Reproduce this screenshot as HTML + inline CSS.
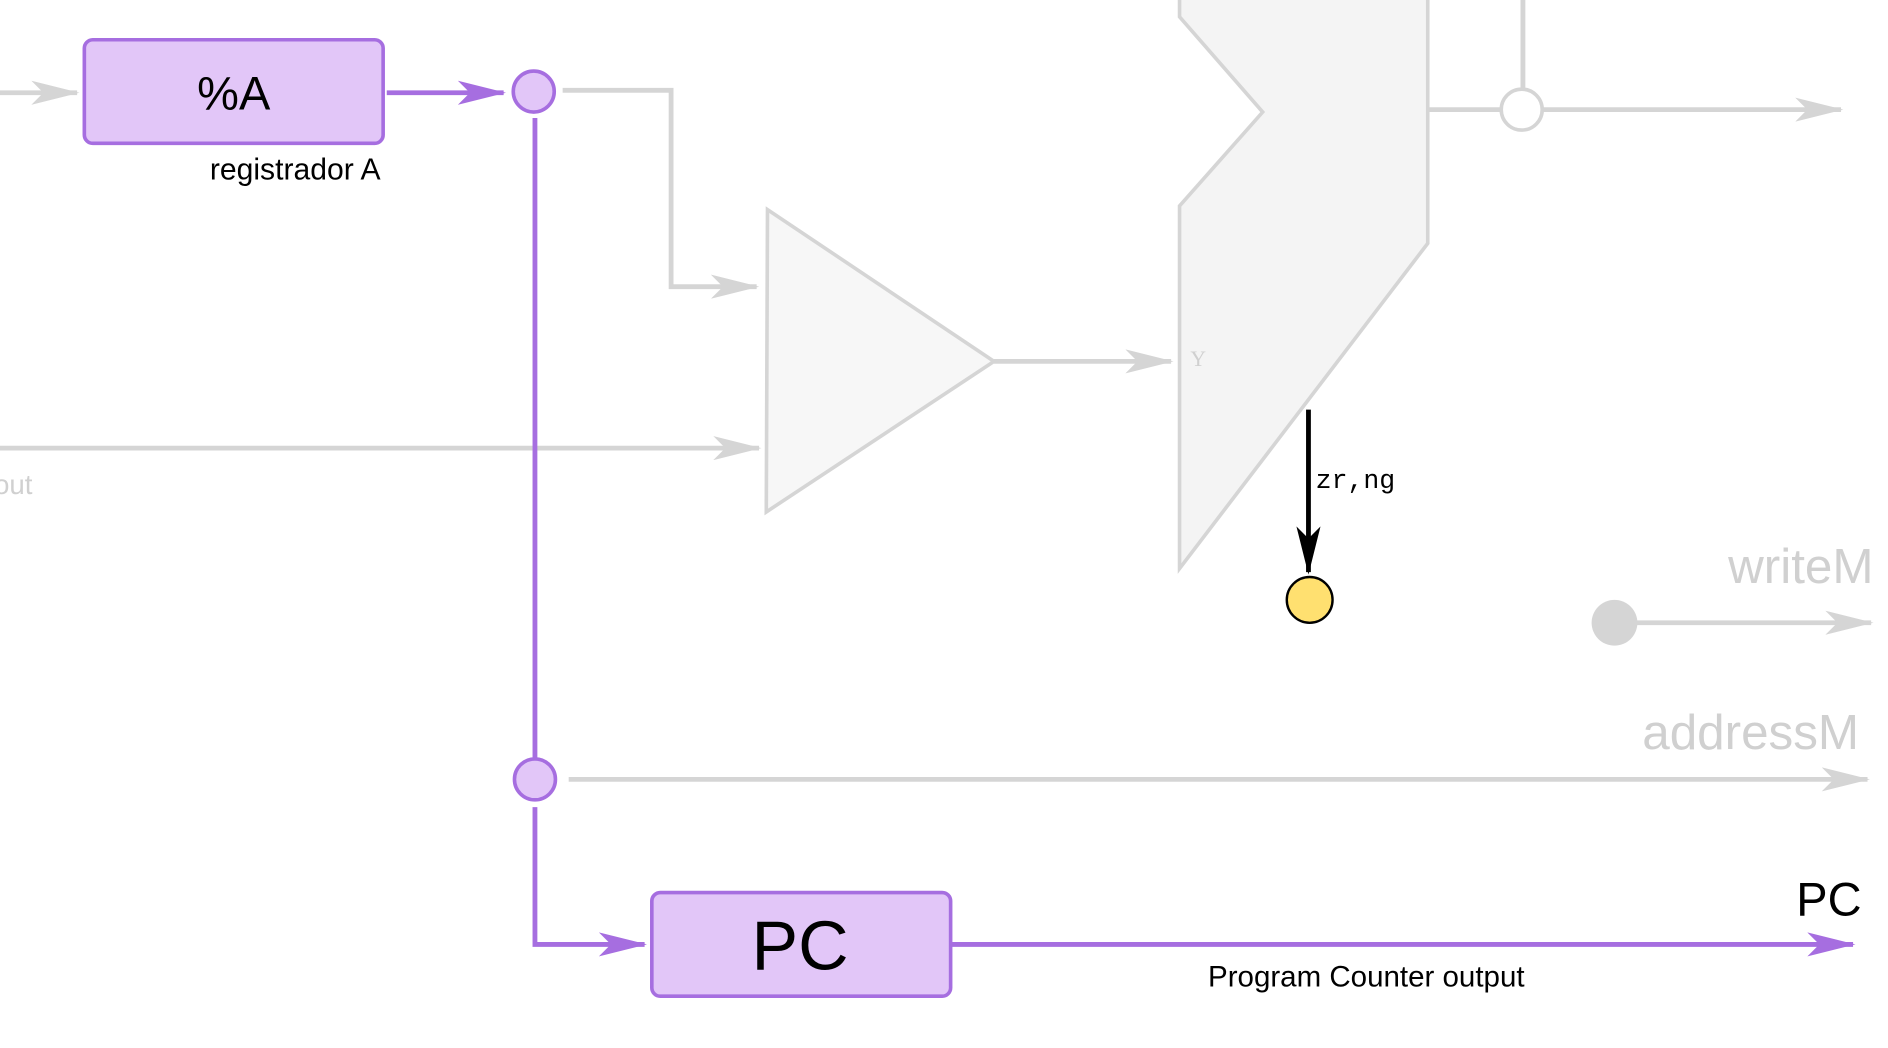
<!DOCTYPE html>
<html><head><meta charset="utf-8"><style>
html,body{margin:0;padding:0;background:#fff;width:1888px;height:1048px;overflow:hidden}
svg{display:block}
</style></head><body>
<svg width="1888" height="1048" viewBox="0 0 1567 870" preserveAspectRatio="none" font-family="Liberation Sans, sans-serif">
<defs>
<marker id="g" viewBox="0 0 40 20" markerUnits="userSpaceOnUse" markerWidth="40" markerHeight="20" refX="38" refY="10" orient="auto"><path d="M0,0 L40,10 L0,20 L10,10 z" fill="#d5d5d5"/></marker>
<marker id="p" viewBox="0 0 40 20" markerUnits="userSpaceOnUse" markerWidth="40" markerHeight="20" refX="38" refY="10" orient="auto"><path d="M0,0 L40,10 L0,20 L10,10 z" fill="#a66ee0"/></marker>
<marker id="k" viewBox="0 0 20 40" markerUnits="userSpaceOnUse" markerWidth="20" markerHeight="40" refX="10" refY="38" orient="0"><path d="M0,0 L10,40 L20,0 L10,10 z" fill="#000"/></marker>
</defs>
<polygon points="979,-5 979,14 1048,93 979,171 979,472 1185,202 1185,-5" fill="#f4f4f4" stroke="#d5d5d5" stroke-width="3"/>
<text x="988" y="304" style="font-family:'Liberation Serif',serif;font-size:18px" fill="#d0d0d0">Y</text>
<line x1="1264" y1="0" x2="1264" y2="74" stroke="#d5d5d5" stroke-width="4"/>
<line x1="1185" y1="91" x2="1246" y2="91" stroke="#d5d5d5" stroke-width="4"/>
<line x1="1280" y1="91" x2="1528" y2="91" stroke="#d5d5d5" stroke-width="4" marker-end="url(#g)"/>
<circle cx="1263" cy="91" r="17" fill="#fff" stroke="#d5d5d5" stroke-width="3"/>
<polygon points="637,174 825,300 636,425" fill="#f7f7f7" stroke="#d5d5d5" stroke-width="3"/>
<line x1="825" y1="300" x2="972" y2="300" stroke="#d5d5d5" stroke-width="4" marker-end="url(#g)"/>
<polyline points="467,75 557,75 557,238 628,238" fill="none" stroke="#d5d5d5" stroke-width="4" marker-end="url(#g)"/>
<line x1="0" y1="372" x2="630" y2="372" stroke="#d5d5d5" stroke-width="4" marker-end="url(#g)"/>
<text x="-5" y="410" style="font-size:23px" fill="#d0d0d0">out</text>
<line x1="0" y1="77" x2="64" y2="77" stroke="#d5d5d5" stroke-width="4" marker-end="url(#g)"/>
<line x1="472" y1="647" x2="1550" y2="647" stroke="#d5d5d5" stroke-width="4" marker-end="url(#g)"/>
<text x="1543" y="622" style="font-size:41px" fill="#d0d0d0" text-anchor="end">addressM</text>
<text x="1555" y="484" style="font-size:41px" fill="#d0d0d0" text-anchor="end">writeM</text>
<line x1="1340" y1="517" x2="1553" y2="517" stroke="#d5d5d5" stroke-width="4" marker-end="url(#g)"/>
<circle cx="1340" cy="517" r="19" fill="#d5d5d5"/>
<line x1="1086" y1="340" x2="1086" y2="475" stroke="#000" stroke-width="4" marker-end="url(#k)"/>
<text x="1092" y="405" style="font-family:'Liberation Mono',monospace;font-size:22px" fill="#000">zr,ng</text>
<circle cx="1087" cy="498" r="19" fill="#ffe070" stroke="#000" stroke-width="2"/>
<line x1="444" y1="98" x2="444" y2="630" stroke="#a66ee0" stroke-width="4"/>
<polyline points="444,670 444,784 535,784" fill="none" stroke="#a66ee0" stroke-width="4" marker-end="url(#p)"/>
<line x1="321" y1="77" x2="418" y2="77" stroke="#a66ee0" stroke-width="4" marker-end="url(#p)"/>
<line x1="789" y1="784" x2="1538" y2="784" stroke="#a66ee0" stroke-width="4" marker-end="url(#p)"/>
<circle cx="443" cy="76" r="17" fill="#e2c6f8" stroke="#a66ee0" stroke-width="3"/>
<circle cx="444" cy="647" r="17" fill="#e2c6f8" stroke="#a66ee0" stroke-width="3"/>
<rect x="70" y="33" width="248" height="86" rx="7" fill="#e2c6f8" stroke="#a66ee0" stroke-width="3"/>
<text x="194" y="91" style="font-size:39px" text-anchor="middle" fill="#000">%A</text>
<text x="245" y="149" style="font-size:25px" text-anchor="middle" fill="#000">registrador A</text>
<rect x="541" y="741" width="248" height="86" rx="7" fill="#e2c6f8" stroke="#a66ee0" stroke-width="3"/>
<text x="664" y="805" style="font-size:58px" text-anchor="middle" fill="#000">PC</text>
<text x="1545" y="760" style="font-size:39px" text-anchor="end" fill="#000">PC</text>
<text x="1134" y="819" style="font-size:24.5px" text-anchor="middle" fill="#000">Program Counter output</text>
</svg>
</body></html>
